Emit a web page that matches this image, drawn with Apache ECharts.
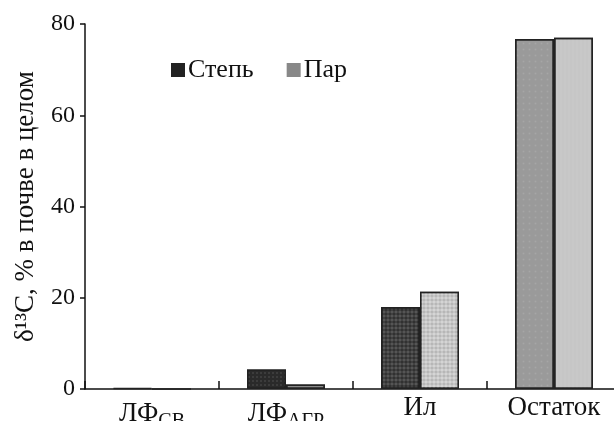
<!DOCTYPE html>
<html><head><meta charset="utf-8">
<script src="https://cdn.jsdelivr.net/npm/echarts@6/dist/echarts.min.js"></script>
<style>html,body{margin:0;padding:0;background:#fff}#c{width:614px;height:421px}</style>
</head><body><div id="c"></div>
<script>
const categories = ['{b|ЛФ}{s|СВ}', '{b|ЛФ}{s|АГР}', '{a|Ил}', '{a|Остаток}'];
const seriesNames = ['Степь', 'Пар'];
const stepValues = [0.2, 4.3, 18.0, 76.7];
const parValues = [0, 1.0, 21.3, 77.0];
const yTicks = [0, 20, 40, 60, 80];

const stepColors = ['#222', '#2a2a2a', '#5a5a5a', '#9a9a9a'];
const parColors = ['#888', '#8a8a8a', '#b3b3b3', '#c6c6c6'];
const stepDecal = [null,
  {symbol:'rect', symbolSize:0.5, dashArrayX:[2,2], dashArrayY:[2,2], color:'rgba(255,255,255,0.35)'},
  {symbol:'circle', symbolSize:0.9, dashArrayX:[4,0], dashArrayY:[4,0], color:'rgba(0,0,0,0.45)'},
  {symbol:'rect', symbolSize:0.6, dashArrayX:[3,3], dashArrayY:[3,3], color:'rgba(255,255,255,0.12)'}];
const parDecal = [null,
  {symbol:'rect', symbolSize:0.5, dashArrayX:[2,2], dashArrayY:[2,2], color:'rgba(255,255,255,0.3)'},
  {symbol:'circle', symbolSize:0.9, dashArrayX:[4,0], dashArrayY:[4,0], color:'rgba(255,255,255,0.45)'},
  {symbol:'rect', symbolSize:0.6, dashArrayX:[2,2], dashArrayY:[1,0], color:'rgba(255,255,255,0.15)'}];

function mk(vals, colors, decals){
  return vals.map((v,i)=>({value:v, itemStyle:Object.assign({color:colors[i]}, decals[i]?{decal:decals[i]}:{})}));
}
const serif = '"Liberation Serif","DejaVu Serif",serif';
const chart = echarts.init(document.getElementById('c'), null, {renderer:'canvas'});
chart.setOption({
  animation:false,
  textStyle:{fontFamily:serif},
  grid:{left:85, right:-7, top:24, bottom:32, outerBoundsMode:'none', containLabel:false},
  legend:{
    left:166, top:52, itemWidth:14, itemHeight:14, itemGap:33, icon:'rect',
    textStyle:{fontFamily:serif, fontSize:26, color:'#111', padding:[0,0,0,-2]},
    data:[{name:'Степь', itemStyle:{color:'#222', borderWidth:0, decal:'none'}},{name:'Пар', itemStyle:{color:'#888', borderWidth:0, decal:'none'}}]
  },
  xAxis:{
    type:'category', data:categories, boundaryGap:true,
    axisLine:{lineStyle:{color:'#111', width:1.5}},
    axisTick:{show:true, inside:true, length:8, lineStyle:{color:'#111', width:1.5}},
    axisLabel:{margin:5, color:'#111', rich:{
      a:{fontFamily:serif, fontSize:27, color:'#111'},
      b:{fontFamily:serif, fontSize:27, color:'#111', padding:[1,0,0,0]},
      s:{fontFamily:serif, fontSize:20, color:'#111', padding:[18,0,0,0]}
    }}
  },
  yAxis:{
    type:'value', min:yTicks[0], max:yTicks[yTicks.length-1], interval:20,
    name:'δ¹³C, % в почве в целом', nameLocation:'middle', nameGap:46,
    nameTextStyle:{fontFamily:serif, fontSize:27, color:'#111'},
    axisLine:{show:true, lineStyle:{color:'#111', width:1.5}},
    axisTick:{show:true, length:5, lineStyle:{color:'#111', width:1.5}},
    axisLabel:{margin:10, fontFamily:serif, fontSize:24, color:'#111'},
    splitLine:{show:false}
  },
  series:[
    {name:seriesNames[0], type:'bar', barWidth:39, barGap:'0%', data:mk(stepValues, stepColors, stepDecal),
     itemStyle:{borderColor:'#222', borderWidth:1.5}},
    {name:seriesNames[1], type:'bar', barWidth:39, barGap:'0%', data:mk(parValues, parColors, parDecal),
     itemStyle:{borderColor:'#222', borderWidth:1.5}}
  ]
});
</script></body></html>
